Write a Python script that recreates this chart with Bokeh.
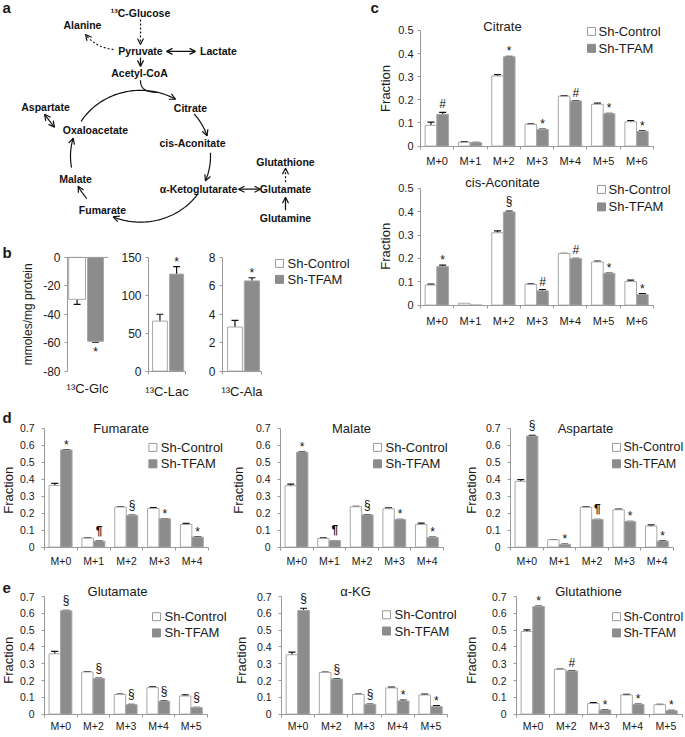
import numpy as np
from bokeh.plotting import figure
from bokeh.models import (Range1d, LinearAxis, FixedTicker, ColumnDataSource,
                          Whisker, TeeHead, Arrow, OpenHead, Spacer, Span)
from bokeh.layouts import row, column
from bokeh.core.properties import value
from bokeh.embed import file_html
from bokeh.resources import INLINE

FONT = "Liberation Sans"
INK = "#111111"
AXC = "#9a9a9a"
EDGE = "#a8a8a8"
GRAY = "#8c8c8c"
TXT = "#1a1a1a"

# ---------------- data ----------------
M7 = ["M+0", "M+1", "M+2", "M+3", "M+4", "M+5", "M+6"]
M5A = ["M+0", "M+1", "M+2", "M+3", "M+4"]
M5B = ["M+0", "M+2", "M+3", "M+4", "M+5"]
TICKS_C = [0, 0.1, 0.2, 0.3, 0.4, 0.5]
TICKS_DE = [0, 0.1, 0.2, 0.3, 0.4, 0.5, 0.6, 0.7]

# panel b
b_labels = ["¹³C-Glc", "¹³C-Lac", "¹³C-Ala"]
b_ctrl = [-29.5, 66, 3.1]
b_ctrl_err = [3.5, 9, 0.47]
b_tfam = [-59, 128, 6.35]
b_tfam_err = [0.6, 10, 0.22]
b_sig = ["*", "*", "*"]
b_ticks_glc = [-80, -60, -40, -20, 0]
b_ticks_lac = [0, 50, 100, 150]
b_ticks_ala = [0, 2, 4, 6, 8]

# panel c
cit_ctrl = [0.090, 0.017, 0.303, 0.094, 0.216, 0.181, 0.105]
cit_ctrl_err = [0.014, 0.002, 0.006, 0.002, 0.002, 0.005, 0.005]
cit_tfam = [0.137, 0.015, 0.386, 0.072, 0.195, 0.140, 0.063]
cit_tfam_err = [0.009, 0.001, 0.002, 0.002, 0.002, 0.002, 0.003]
cit_sig = ["#", "", "*", "*", "#", "*", "*"]

cis_ctrl = [0.086, 0.008, 0.310, 0.089, 0.221, 0.185, 0.101]
cis_ctrl_err = [0.004, 0.0, 0.008, 0.002, 0.001, 0.004, 0.006]
cis_tfam = [0.165, 0.0, 0.399, 0.061, 0.199, 0.136, 0.045]
cis_tfam_err = [0.006, 0.0, 0.004, 0.005, 0.001, 0.001, 0.004]
cis_sig = ["*", "", "§", "#", "#", "*", "*"]

# panel d
fum_ctrl = [0.364, 0.053, 0.236, 0.228, 0.134]
fum_ctrl_err = [0.012, 0.001, 0.001, 0.005, 0.006]
fum_tfam = [0.573, 0.035, 0.187, 0.167, 0.059]
fum_tfam_err = [0.002, 0.001, 0.002, 0.001, 0.002]
fum_sig = ["*", "¶", "§", "*", "*"]

mal_ctrl = [0.362, 0.051, 0.238, 0.226, 0.133]
mal_ctrl_err = [0.010, 0.003, 0.003, 0.005, 0.008]
mal_tfam = [0.560, 0.038, 0.190, 0.162, 0.057]
mal_tfam_err = [0.002, 0.001, 0.001, 0.001, 0.002]
mal_sig = ["*", "¶", "§", "*", "*"]

asp_ctrl = [0.388, 0.043, 0.235, 0.220, 0.124]
asp_ctrl_err = [0.010, 0.001, 0.002, 0.004, 0.007]
asp_tfam = [0.655, 0.015, 0.163, 0.151, 0.035]
asp_tfam_err = [0.004, 0.003, 0.001, 0.001, 0.002]
asp_sig = ["§", "*", "¶", "*", "*"]

# panel e
glu_ctrl = [0.359, 0.251, 0.117, 0.158, 0.108]
glu_ctrl_err = [0.015, 0.003, 0.003, 0.005, 0.007]
glu_tfam = [0.616, 0.212, 0.056, 0.077, 0.039]
glu_tfam_err = [0.003, 0.002, 0.002, 0.002, 0.002]
glu_sig = ["§", "§", "§", "§", "§"]

akg_ctrl = [0.354, 0.248, 0.117, 0.156, 0.114]
akg_ctrl_err = [0.016, 0.003, 0.003, 0.005, 0.005]
akg_tfam = [0.618, 0.209, 0.058, 0.078, 0.045]
akg_tfam_err = [0.013, 0.002, 0.002, 0.006, 0.006]
akg_sig = ["§", "§", "§", "*", "*"]

gsh_ctrl = [0.492, 0.266, 0.063, 0.114, 0.056]
gsh_ctrl_err = [0.010, 0.003, 0.005, 0.004, 0.002]
gsh_tfam = [0.641, 0.257, 0.024, 0.058, 0.020]
gsh_tfam_err = [0.003, 0.002, 0.002, 0.002, 0.002]
gsh_sig = ["*", "#", "*", "*", "*"]

# pathway diagram (panel a): node labels and where they sit in the sketch
path_nodes = ["¹³C-Glucose", "Alanine", "Pyruvate", "Lactate", "Acetyl-CoA", "Citrate",
              "cis-Aconitate", "Aspartate", "Oxaloacetate", "Malate", "Fumarate",
              "α-Ketoglutarate", "Glutamate", "Glutathione", "Glutamine"]
path_x = [140, 82, 140, 218, 139, 190, 192, 45, 95, 75, 102, 198, 285, 285, 285]
path_y = [13, 25, 51, 51, 73, 108, 143, 107, 130, 179, 210, 189, 189, 162, 218]

SIG_DY = {"*": 2, "#": -1, "§": -3, "¶": -3}
SIG_STYLE = {"*": "normal", "#": "normal", "§": "normal", "¶": "bold"}


# ---------------- helpers ----------------
class Panel:
    """A figure whose outer box and plotting frame are given in page pixels."""

    def __init__(self, box, frame):
        bx0, by0, bx1, by1 = box
        fx0, fy0, fx1, fy1 = frame
        self.frame = frame
        self.p = figure(width=bx1 - bx0, height=by1 - by0, output_backend="svg",
                        toolbar_location=None, x_axis_type=None, y_axis_type=None,
                        min_border_left=fx0 - bx0, min_border_right=bx1 - fx1,
                        min_border_top=fy0 - by0, min_border_bottom=by1 - fy1)
        if "frame_align" in self.p.properties():
            self.p.frame_align = False
        self.p.outline_line_color = None
        self.p.background_fill_color = "white"
        self.p.border_fill_color = "white"
        self.set_x(0, 1.0)
        self.set_y(0, 1.0)

    def set_x(self, X0, k):
        self.X0, self.kx = X0, k
        a, b = self.dx(self.frame[0]), self.dx(self.frame[2])
        e = (b - a) * 1e-6
        self.p.x_range = Range1d(a - e, b + e)

    def dx(self, X):
        return (X - self.X0) / self.kx

    def set_y(self, Y0, k):
        self.Y0, self.ky = Y0, k
        a, b = self.dy(self.frame[3] + 0.4), self.dy(self.frame[1])
        self.p.y_range = Range1d(a, b)

    def dy(self, Y):
        return (self.Y0 - Y) / self.ky

    def text(self, X, Y, t, size, bold=False, align="center", baseline="middle", angle=0.0):
        self.p.text(x=[self.dx(X)], y=[self.dy(Y)], text=[t], angle=angle,
                    text_font=value(FONT), text_font_size=f"{size}px",
                    text_font_style="bold" if bold else "normal", text_color=TXT,
                    text_align=align, text_baseline=baseline)


def strip(box):
    return Panel(box, box)


def style_axis(ax, fs):
    ax.axis_line_color = AXC
    ax.major_tick_line_color = AXC
    ax.minor_tick_line_color = AXC
    ax.major_label_text_font = FONT
    ax.major_label_text_font_size = fs
    ax.major_label_text_color = TXT


def y_axis(pan, ticks, fs, standoff):
    ax = LinearAxis(ticker=FixedTicker(ticks=ticks), bounds=(min(ticks), max(ticks)),
                    major_tick_in=0, major_tick_out=3, minor_tick_in=0, minor_tick_out=0,
                    major_label_standoff=standoff,
                    major_label_overrides={t: f"{t:g}" for t in ticks})
    style_axis(ax, fs)
    pan.p.add_layout(ax, "left")


def x_axis(pan, cats, fs, standoff, line=True):
    n = len(cats)
    centers = [i + 0.5 for i in range(n)]
    ax = LinearAxis(ticker=FixedTicker(ticks=centers, minor_ticks=list(range(n + 1)) if line else []),
                    bounds=(0, n), major_label_overrides=dict(zip(centers, cats)),
                    major_tick_in=0, major_tick_out=0, minor_tick_in=0, minor_tick_out=3,
                    major_label_standoff=standoff)
    style_axis(ax, fs)
    if not line:
        ax.axis_line_color = None
        ax.minor_tick_line_color = None
    pan.p.add_layout(ax, "below")


def whiskers(p, xs, vals, errs):
    keep = [i for i in range(len(vals)) if errs[i] > 0]
    if not keep:
        return
    src = ColumnDataSource(dict(base=[float(xs[i]) for i in keep],
                                upper=[vals[i] + errs[i] for i in keep],
                                lower=[vals[i] - errs[i] for i in keep]))
    p.add_layout(Whisker(source=src, base="base", upper="upper", lower="lower",
                         line_color=INK, line_width=1.2,
                         upper_head=TeeHead(size=7, line_color=INK, line_width=1.2),
                         lower_head=TeeHead(size=7, line_color=INK, line_width=1.2)))


def sig_marks(p, xs, vals, errs, sigs, fs="12px"):
    rows = [(float(x), v, e, s) for x, v, e, s in zip(xs, vals, errs, sigs) if s]
    up = [r for r in rows if r[1] >= 0]
    dn = [r for r in rows if r[1] < 0]
    if up:
        src = ColumnDataSource(dict(x=[r[0] for r in up], y=[r[1] + r[2] for r in up],
                                    t=[r[3] for r in up], yo=[SIG_DY[r[3]] for r in up],
                                    st=[SIG_STYLE[r[3]] for r in up]))
        p.text(x="x", y="y", text="t", y_offset="yo", source=src, text_font=value(FONT),
               text_font_style="st", text_font_size=fs, text_align="center",
               text_baseline="bottom", text_color=INK)
    if dn:
        src = ColumnDataSource(dict(x=[r[0] for r in dn], y=[r[1] - r[2] for r in dn],
                                    t=[r[3] for r in dn]))
        p.text(x="x", y="y", text="t", y_offset=3, source=src, text_font=value(FONT),
               text_font_size=fs, text_align="center", text_baseline="top", text_color=INK)


def legend(pan, bx, y1, dy, gap=12, fs=13):
    xc = pan.dx(bx + 4)
    pan.p.rect(x=[xc, xc], y=[pan.dy(y1), pan.dy(y1 + dy)], width=8, height=8,
               width_units="screen", height_units="screen",
               fill_color=["white", GRAY], line_color=["#999999", GRAY], line_width=1)
    pan.text(bx + gap, y1, "Sh-Control", fs, align="left")
    pan.text(bx + gap, y1 + dy, "Sh-TFAM", fs, align="left")


def fraction_chart(box, frame, ax_right, top_val, top_y, cats, ctrl, ctrl_err, tfam, tfam_err,
                   sig, yticks, title, title_xy, leg, tick_fs, cat_standoff, ytick_standoff):
    n = len(cats)
    ax_x, y0 = frame[0], frame[3]
    pan = Panel(box, frame)
    pan.set_x(ax_x, (ax_right - ax_x) / n)
    pan.set_y(y0, (y0 - top_y) / top_val)
    p = pan.p
    idx = np.arange(n)
    xc = idx + 0.315
    xt = idx + 0.665
    p.vbar(x=xc, top=ctrl, width=0.35, fill_color="white", line_color=EDGE, line_width=1)
    p.vbar(x=xt, top=tfam, width=0.35, fill_color=GRAY, line_color=EDGE, line_width=1)
    whiskers(p, xc, ctrl, ctrl_err)
    whiskers(p, xt, tfam, tfam_err)
    sig_marks(p, xt, tfam, tfam_err, sig)
    y_axis(pan, yticks, tick_fs, ytick_standoff)
    x_axis(pan, cats, tick_fs, cat_standoff)
    pan.text(title_xy[0], title_xy[1], title, 13)
    legend(pan, *leg)
    return pan


# ---------------- panel a: pathway sketch ----------------
pa = strip((0, 0, 355, 228))
pa.p.text(x=path_x, y=[-v for v in path_y], text=path_nodes, text_font=value(FONT),
          text_font_style="bold", text_font_size="10.5px", text_align="center",
          text_baseline="middle", text_color=INK)


def head():
    return OpenHead(size=6, line_color=INK, line_width=1.2)


def arrow(x0, y0, x1, y1, dashed=False, both=False):
    pa.p.add_layout(Arrow(x_start=x0, y_start=-y0, x_end=x1, y_end=-y1, end=head(),
                          start=head() if both else None, line_color=INK, line_width=1.2,
                          line_dash="2 2" if dashed else "solid"))


def curve(pts, dashed=False, with_head=True):
    t = np.linspace(0, 1, 40)[:, None]
    pts = np.array(pts, dtype=float)
    if len(pts) == 3:
        c = (1 - t) ** 2 * pts[0] + 2 * (1 - t) * t * pts[1] + t ** 2 * pts[2]
    else:
        c = ((1 - t) ** 3 * pts[0] + 3 * (1 - t) ** 2 * t * pts[1]
             + 3 * (1 - t) * t ** 2 * pts[2] + t ** 3 * pts[3])
    pa.p.line(c[:, 0], -c[:, 1], line_color=INK, line_width=1.2,
              line_dash="2 2" if dashed else "solid")
    if with_head:
        pa.p.add_layout(Arrow(x_start=c[-4, 0], y_start=-c[-4, 1], x_end=c[-1, 0],
                              y_end=-c[-1, 1], end=head(), line_color=None))


CX, CY, RX, RY = 140, 156, 70, 66
for a0, a1 in [(212, 300), (320, 342), (357, 382), (35, 113), (140, 153), (170, 196)]:
    th = np.radians(np.linspace(a0, a1, 50))
    xs = CX + RX * np.cos(th)
    ys = CY + RY * np.sin(th)
    pa.p.line(xs, -ys, line_color=INK, line_width=1.2)
    pa.p.add_layout(Arrow(x_start=xs[-4], y_start=-ys[-4], x_end=xs[-1], y_end=-ys[-1],
                          end=head(), line_color=None))

arrow(140, 19, 140, 44, dashed=True)
curve([(113, 49), (95, 47), (85, 34)], dashed=True)
arrow(166, 51, 195, 51, both=True)
arrow(140, 57, 140, 66)
curve([(140, 80), (140, 89), (146, 92), (158, 92)], with_head=False)
arrow(44, 114, 54, 127, both=True)
arrow(238, 189, 260, 189, both=True)
arrow(285, 210, 285, 197)
arrow(285, 182, 285, 168, dashed=True)
pa.text(2, 7, "a", 15, bold=True, align="left")


# ---------------- panel b ----------------
def b_chart(box, frame, cw, yref, k, i, ticks, xc, xt, wc, wt):
    pan = Panel(box, frame)
    pan.set_x(frame[0], cw)
    pan.set_y(yref, k)
    p = pan.p
    p.vbar(x=[xc], top=[b_ctrl[i]], bottom=0, width=wc, fill_color="white", line_color=EDGE)
    p.vbar(x=[xt], top=[b_tfam[i]], bottom=0, width=wt, fill_color=GRAY, line_color=EDGE)
    whiskers(p, [xc], [b_ctrl[i]], [b_ctrl_err[i]])
    whiskers(p, [xt], [b_tfam[i]], [b_tfam_err[i]])
    sig_marks(p, [xt], [b_tfam[i]], [b_tfam_err[i]], [b_sig[i]])
    y_axis(pan, ticks, "12px", 4)
    return pan


T0, T1 = 0, 408
B_TOP, B_BOT = 240, 371
bs = strip((0, 228, 38, T1))
bs.text(2, 252, "b", 15, bold=True, align="left")
bs.text(28, 314, "mmoles/mg protein", 12, angle=np.pi / 2)

b1 = b_chart((38, 228, 108, T1), (67, B_TOP, 108, B_BOT), 40, 257, 1.425, 0, b_ticks_glc,
             0.24, 0.70, 0.42, 0.40)
x_axis(b1, [b_labels[0]], "13px", 9, line=False)
b1.p.add_layout(Span(location=0, dimension="width", line_color=AXC, line_width=1))

b2 = b_chart((108, 228, 195, T1), (148, B_TOP, 185, B_BOT), 37, 371, 0.76, 1, b_ticks_lac,
             0.31, 0.76, 0.40, 0.38)
x_axis(b2, [b_labels[1]], "13px", 9)

b3 = b_chart((195, 228, 355, T1), (222, B_TOP, 355, B_BOT), 39, 371, 14.25, 2, b_ticks_ala,
             0.32, 0.755, 0.38, 0.39)
x_axis(b3, [b_labels[2]], "13px", 9)
legend(b3, 275, 263, 16)

# ---------------- panel c ----------------
cs = strip((355, T0, 393, T1))
cs.text(370, 7, "c", 15, bold=True, align="left")
cs.text(385, 88, "Fraction", 13, angle=np.pi / 2)
cs.text(385, 246, "Fraction", 13, angle=np.pi / 2)

c1 = fraction_chart((393, 0, 685, 170), (420, 0, 685, 146), 653, 0.5, 30, M7, cit_ctrl,
                    cit_ctrl_err, cit_tfam, cit_tfam_err, cit_sig, TICKS_C, "Citrate", (502, 26),
                    (587, 31, 17, 11), "11px", 5, 4)
c2 = fraction_chart((393, 170, 685, 335), (420, 170, 685, 305), 653, 0.5, 188, M7, cis_ctrl,
                    cis_ctrl_err, cis_tfam, cis_tfam_err, cis_sig, TICKS_C, "cis-Aconitate",
                    (502, 182), (597, 189, 17.5, 11), "11px", 6, 4)

# ---------------- panel d ----------------
D0, D1, DB = 408, 578, 547
ds1 = strip((0, D0, 16, D1))
ds1.text(2, 417, "d", 15, bold=True, align="left")
ds1.text(8, 490, "Fraction", 13, angle=np.pi / 2)
ds2 = strip((228, D0, 250, D1))
ds2.text(238, 490, "Fraction", 13, angle=np.pi / 2)
ds3 = strip((456, D0, 482, D1))
ds3.text(471, 490, "Fraction", 13, angle=np.pi / 2)

d1 = fraction_chart((16, D0, 228, D1), (43, D0, 228, DB), 208, 0.6, 445, M5A, fum_ctrl,
                    fum_ctrl_err, fum_tfam, fum_tfam_err, fum_sig, TICKS_DE, "Fumarate",
                    (120, 428), (148, 447, 16.5), "10.5px", 4, 7)
d2 = fraction_chart((250, D0, 456, D1), (280, D0, 456, DB), 443, 0.6, 445, M5A, mal_ctrl,
                    mal_ctrl_err, mal_tfam, mal_tfam_err, mal_sig, TICKS_DE, "Malate",
                    (351, 428), (373, 447, 16.5), "10.5px", 4, 7)
d3 = fraction_chart((482, D0, 685, D1), (510, D0, 685, DB), 673, 0.6, 445, M5A, asp_ctrl,
                    asp_ctrl_err, asp_tfam, asp_tfam_err, asp_sig, TICKS_DE, "Aspartate",
                    (585, 428), (612, 447, 16.5, 11, 12.5), "10.5px", 4, 7)

# ---------------- panel e ----------------
E0, E1, EB = 578, 734, 720
es1 = strip((0, E0, 16, E1))
es1.text(2, 588, "e", 15, bold=True, align="left")
es1.text(8, 660, "Fraction", 13, angle=np.pi / 2)
es2 = strip((232, E0, 252, E1))
es2.text(241, 660, "Fraction", 13, angle=np.pi / 2)
es3 = strip((460, E0, 484, E1))
es3.text(471, 660, "Fraction", 13, angle=np.pi / 2)

e1 = fraction_chart((16, E0, 232, E1), (44, E0, 232, EB), 207, 0.7, 597, M5B, glu_ctrl,
                    glu_ctrl_err, glu_tfam, glu_tfam_err, glu_sig, TICKS_DE, "Glutamate",
                    (117, 592), (152, 618, 17), "10.5px", 2, 7)
e2 = fraction_chart((252, E0, 460, E1), (281, E0, 460, EB), 447, 0.7, 597, M5B, akg_ctrl,
                    akg_ctrl_err, akg_tfam, akg_tfam_err, akg_sig, TICKS_DE, "α-KG",
                    (355, 592), (382, 616, 17), "10.5px", 2, 7)
e3 = fraction_chart((484, E0, 685, E1), (516, E0, 685, EB), 682, 0.7, 597, M5B, gsh_ctrl,
                    gsh_ctrl_err, gsh_tfam, gsh_tfam_err, gsh_sig, TICKS_DE, "Glutathione",
                    (588, 592), (612, 618, 17, 11, 12.5), "10.5px", 2, 7)

# ---------------- layout ----------------
left = column(pa.p, row(bs.p, b1.p, b2.p, b3.p))
right = row(cs.p, column(c1.p, c2.p, Spacer(width=292, height=T1 - 335)))
page = column(row(left, right),
              row(ds1.p, d1.p, ds2.p, d2.p, ds3.p, d3.p),
              row(es1.p, e1.p, es2.p, e2.p, es3.p, e3.p))

open("out.html", "w").write(file_html(page, INLINE))
